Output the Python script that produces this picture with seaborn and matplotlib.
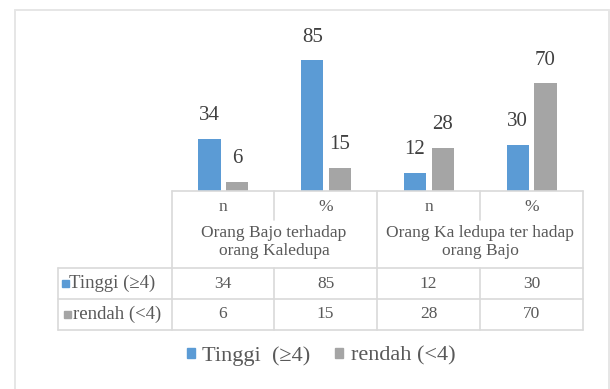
import matplotlib
matplotlib.use("Agg")
import matplotlib.pyplot as plt
from matplotlib.patches import Rectangle, Patch
from matplotlib.lines import Line2D
import seaborn as sns
import pandas as pd

# ---- data ----
sub_labels = ["n", "%", "n", "%"]
group_labels = ["Orang Bajo terhadap\norang Kaledupa", "Orang Ka ledupa ter hadap\norang Bajo"]
series_names = ["Tinggi (≥4)", "rendah (<4)"]
tinggi = [34, 85, 12, 30]
rendah = [6, 15, 28, 70]

BLUE = "#5B9BD5"
GREY = "#A5A5A5"
LINE = "#D9D9D9"
TXT = "#595959"

sns.set_theme(style="white")
plt.rcParams["font.family"] = ["Liberation Serif", "DejaVu Serif"]

W, H = 610, 389
fig = plt.figure(figsize=(W / 100, H / 100), dpi=100)

def fx(x):
    return x / W

def fy(y):
    return 1 - y / H

# frame
for (x0, y0, x1, y1) in [(15, 10, 15, H), (15, 10, 609, 10), (609, 10, 609, H)]:
    fig.add_artist(Line2D([fx(x0), fx(x1)], [fy(y0), fy(y1)], color="#E6E6E6", lw=1.4))

# bars
ax = fig.add_axes([fx(172), fy(191), fx(583) - fx(172), fy(37) - fy(191)])
keys = [f"c{i}" for i in range(len(sub_labels))]
df = pd.DataFrame({
    "cat": keys * 2,
    "series": [series_names[0]] * 4 + [series_names[1]] * 4,
    "value": tinggi + rendah,
})
sns.barplot(data=df, x="cat", y="value", hue="series", palette=[BLUE, GREY],
            width=0.54, gap=0.2, ax=ax, legend=False, linewidth=0, saturation=1)
ax.set_ylim(0, 100)
ax.set_xlim(-0.5, 3.5)
ax.axis("off")

for cont, vals in zip(ax.containers, [tinggi, rendah]):
    for patch, v in zip(cont.patches, vals):
        ax.annotate(f"{v}", (patch.get_x() + patch.get_width() / 2, patch.get_height()),
                    xytext=(0, 16.5), textcoords="offset points", ha="center", va="center",
                    fontsize=15, color="#404040")

# data table lines
def hline(y, x0, x1):
    fig.add_artist(Line2D([fx(x0), fx(x1)], [fy(y), fy(y)], color=LINE, lw=1.2))

def vline(x, y0, y1):
    fig.add_artist(Line2D([fx(x), fx(x)], [fy(y0), fy(y1)], color=LINE, lw=1.2))

hline(191, 172, 583)
for y in (268, 299, 330):
    hline(y, 58, 583)
for x in (172, 377, 583):
    vline(x, 191, 330)
vline(58, 268, 330)
for x in (274, 480):
    vline(x, 191, 220)
    vline(x, 268, 330)

col_centers = [223, 325.5, 428.5, 531.5]
for cx, s in zip(col_centers, sub_labels):
    fig.text(fx(cx), fy(207), s, ha="center", va="center", fontsize=12.5, color=TXT)
for gx, g in zip([274, 480], group_labels):
    fig.text(fx(gx), fy(242), g, ha="center", va="center", fontsize=12.5, color=TXT,
             linespacing=1.15)

for row_y, vals in zip([283.5, 314.5], [tinggi, rendah]):
    for cx, v in zip(col_centers, vals):
        fig.text(fx(cx), fy(row_y), f"{v}", ha="center", va="center", fontsize=12.5, color=TXT)

# row headers with keys
fig.add_artist(Rectangle((fx(62), fy(287)), fx(7), 7 / H, color=BLUE, transform=fig.transFigure))
fig.text(fx(69), fy(283.5), series_names[0], ha="left", va="center", fontsize=13.5, color=TXT)
fig.add_artist(Rectangle((fx(64), fy(318)), fx(7), 7 / H, color=GREY, transform=fig.transFigure))
fig.text(fx(73), fy(314.5), series_names[1], ha="left", va="center", fontsize=13.5, color=TXT)

# legend
handles = [Patch(color=BLUE), Patch(color=GREY)]
fig.legend(handles, ["Tinggi  (≥4)", "rendah (<4)"], loc="center",
           bbox_to_anchor=(fx(321), fy(356)), ncol=2, frameon=False,
           fontsize=16, handlelength=0.35, handleheight=0.35, handletextpad=0.35,
           columnspacing=1.1, labelcolor=TXT)

fig.savefig("out.png", dpi=100)
